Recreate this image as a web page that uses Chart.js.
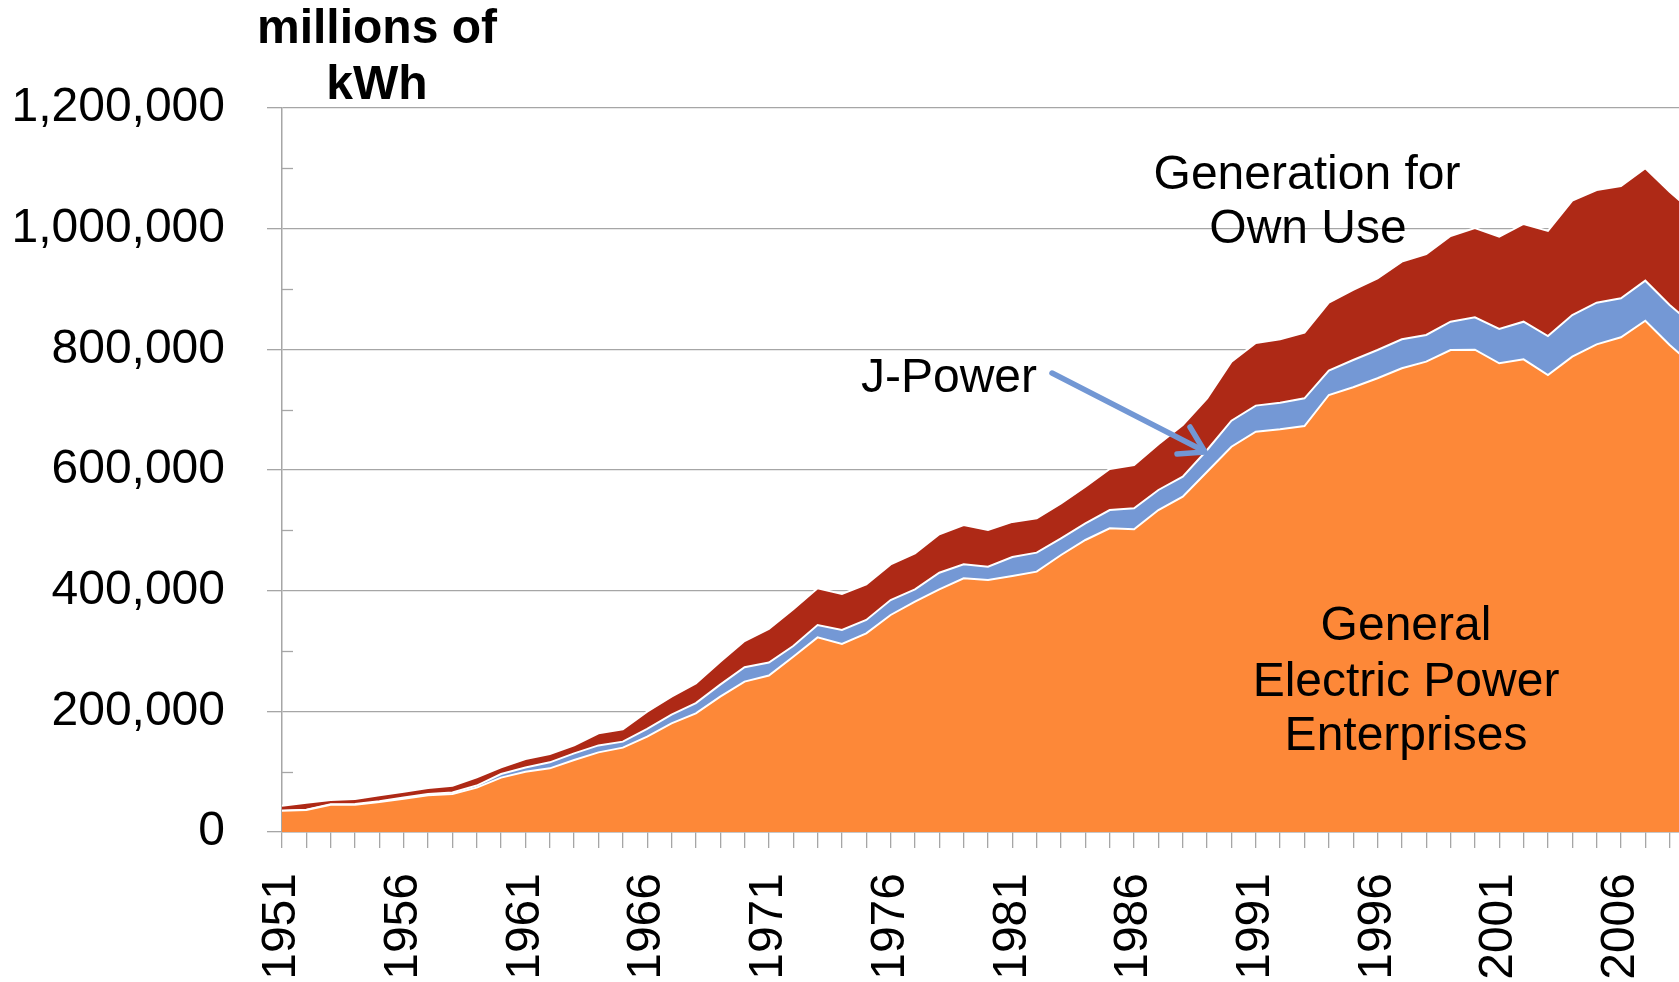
<!DOCTYPE html>
<html>
<head>
<meta charset="utf-8">
<title>Electricity generation in Japan</title>
<script src="https://cdn.jsdelivr.net/npm/chart.js@4.4.1/dist/chart.umd.min.js"></script>
<style>
    html, body { margin: 0; padding: 0; background: #fff; overflow: hidden; }
    #wrap { width: 1694px; height: 982px; }
</style>
</head>
<body>
<div id="wrap"><canvas id="genChart" width="1694" height="982"></canvas></div>
<script>
// Fiscal years on the x axis (the picture is cut off just after 2008)
const years = [1951, 1952, 1953, 1954, 1955, 1956, 1957, 1958, 1959, 1960,
    1961, 1962, 1963, 1964, 1965, 1966, 1967, 1968, 1969, 1970,
    1971, 1972, 1973, 1974, 1975, 1976, 1977, 1978, 1979, 1980,
    1981, 1982, 1983, 1984, 1985, 1986, 1987, 1988, 1989, 1990,
    1991, 1992, 1993, 1994, 1995, 1996, 1997, 1998, 1999, 2000,
    2001, 2002, 2003, 2004, 2005, 2006, 2007, 2008, 2009];

// Generation, millions of kWh
const generalElectric = [35400, 36500, 45300, 45300, 49700, 55300, 60800, 63000, 73500, 90100,
    100000, 105500, 119300, 132000, 139800, 158000, 180100, 196700, 224300, 249200,
    259400, 290600, 322600, 311600, 329300, 359700, 381800, 402200, 420500, 417700,
    424300, 431500, 459100, 484000, 503300, 501700, 533700, 555800, 597200, 638600,
    663500, 667400, 672900, 724300, 737100, 752000, 768600, 779600, 798900, 799500,
    776800, 783500, 757500, 787800, 808300, 819900, 847500, 807200, 772000];

const jPower = [0, 500, 700, 1000, 1300, 1700, 2200, 2500, 3500, 6000,
    7000, 10000, 11000, 11500, 10000, 13000, 14500, 17000, 20000, 24000,
    21600, 17700, 20500, 23200, 22100, 24800, 20400, 27600, 23100, 22100,
    31500, 31500, 27600, 27600, 30400, 34800, 33200, 33200, 36000, 43200,
    43200, 44200, 45900, 40300, 45200, 46900, 48000, 44200, 46900, 53600,
    56900, 62300, 64600, 69100, 69000, 64700, 66300, 66300, 67000];

const ownUse = [8200, 11600, 7000, 8400, 9800, 9800, 9900, 11300, 13600, 11100,
    14000, 13800, 13300, 20000, 20400, 28500, 29700, 32700, 38000, 43400,
    55800, 60800, 60800, 59700, 59100, 59100, 59700, 63600, 65300, 60800,
    58200, 56900, 58100, 60800, 68000, 71800, 75700, 85600, 85600, 97800,
    103800, 105000, 108800, 112700, 116100, 118800, 128700, 134200, 142100, 148100,
    153000, 162000, 174100, 189500, 186800, 186100, 186300, 187800, 187000];

const yMax = 1200000;
const yStep = 200000;
const labelEvery = 5;

const fontFamily = "'Liberation Sans', Arial, sans-serif";
const axisGray = "#a6a6a6";
const arrowBlue = "#7297d4";

Chart.defaults.font.family = fontFamily;
Chart.defaults.color = "#000";

// Small inward ticks, axis unit label and the text callouts
const decorations = {
    id: "decorations",
    beforeDatasetsDraw(chart) {
        const { ctx, chartArea, scales: { y } } = chart;
        ctx.save();
        ctx.strokeStyle = axisGray;
        ctx.lineWidth = 1.3;
        for (let v = yStep / 2; v < yMax; v += yStep) {
            const py = Math.round(y.getPixelForValue(v)) + 0.5;
            ctx.beginPath();
            ctx.moveTo(chartArea.left, py);
            ctx.lineTo(chartArea.left + 11, py);
            ctx.stroke();
        }
        ctx.restore();
    },
    afterDatasetsDraw(chart) {
        const ctx = chart.ctx;
        ctx.save();
        ctx.fillStyle = "#000";
        ctx.textAlign = "center";
        ctx.textBaseline = "alphabetic";

        ctx.font = "bold 48px " + fontFamily;
        ctx.fillText("millions of", 377, 43);
        ctx.fillText("kWh", 377, 99);

        ctx.font = "48px " + fontFamily;
        ctx.fillText("Generation for", 1307, 189);
        ctx.fillText("Own Use", 1308, 243);
        ctx.fillText("J-Power", 949, 392);
        ctx.fillText("General", 1406, 640);
        ctx.fillText("Electric Power", 1406, 696);
        ctx.fillText("Enterprises", 1406, 750);

        // arrow from "J-Power" to the blue band
        ctx.strokeStyle = arrowBlue;
        ctx.lineWidth = 5.5;
        ctx.lineCap = "round";
        ctx.lineJoin = "round";
        ctx.beginPath();
        ctx.moveTo(1052, 373);
        ctx.lineTo(1204, 451);
        ctx.stroke();
        ctx.beginPath();
        ctx.moveTo(1190, 427);
        ctx.lineTo(1205, 452);
        ctx.lineTo(1177, 454);
        ctx.stroke();
        ctx.restore();
    }
};

function areaSet(label, data, colour, fill) {
    return {
        label,
        data,
        backgroundColor: colour,
        borderColor: "#fff",
        borderWidth: 2,
        fill,
        pointRadius: 0,
        pointHoverRadius: 0,
        tension: 0
    };
}

new Chart(document.getElementById("genChart"), {
    type: "line",
    data: {
        labels: years,
        datasets: [
            areaSet("General Electric Power Enterprises", generalElectric, "#fd8838", "origin"),
            areaSet("J-Power", jPower, "#7498d5", "-1"),
            areaSet("Generation for Own Use", ownUse, "#ae2916", "-1")
        ]
    },
    options: {
        responsive: false,
        animation: false,
        layout: { padding: { top: 108, left: 0, right: 0, bottom: 0 } },
        plugins: {
            legend: { display: false },
            tooltip: { enabled: false }
        },
        scales: {
            x: {
                afterFit: scale => {
                    scale.height = 150;
                    scale.paddingLeft = 0;
                    scale.paddingRight = 0;
                },
                ticks: {
                    autoSkip: false,
                    minRotation: 90,
                    maxRotation: 90,
                    padding: 25,
                    color: "#000",
                    font: { size: 48 },
                    callback: (value, index) => {
                        const yr = years[index];
                        return (yr - years[0]) % labelEvery === 0 ? String(yr) : "";
                    }
                },
                grid: {
                    drawOnChartArea: false,
                    tickLength: 16,
                    color: axisGray,
                    lineWidth: 1.3
                },
                border: { color: axisGray, width: 1.5 }
            },
            y: {
                stacked: true,
                min: 0,
                max: yMax,
                afterFit: scale => { scale.width = 282; },
                ticks: {
                    stepSize: yStep,
                    padding: 42,
                    color: "#000",
                    font: { size: 48 },
                    callback: value => value.toLocaleString("en-US")
                },
                grid: {
                    color: axisGray,
                    lineWidth: 1.3,
                    tickLength: 15
                },
                border: { color: axisGray, width: 1.5 }
            }
        }
    },
    plugins: [decorations]
});
</script>
</body>
</html>
